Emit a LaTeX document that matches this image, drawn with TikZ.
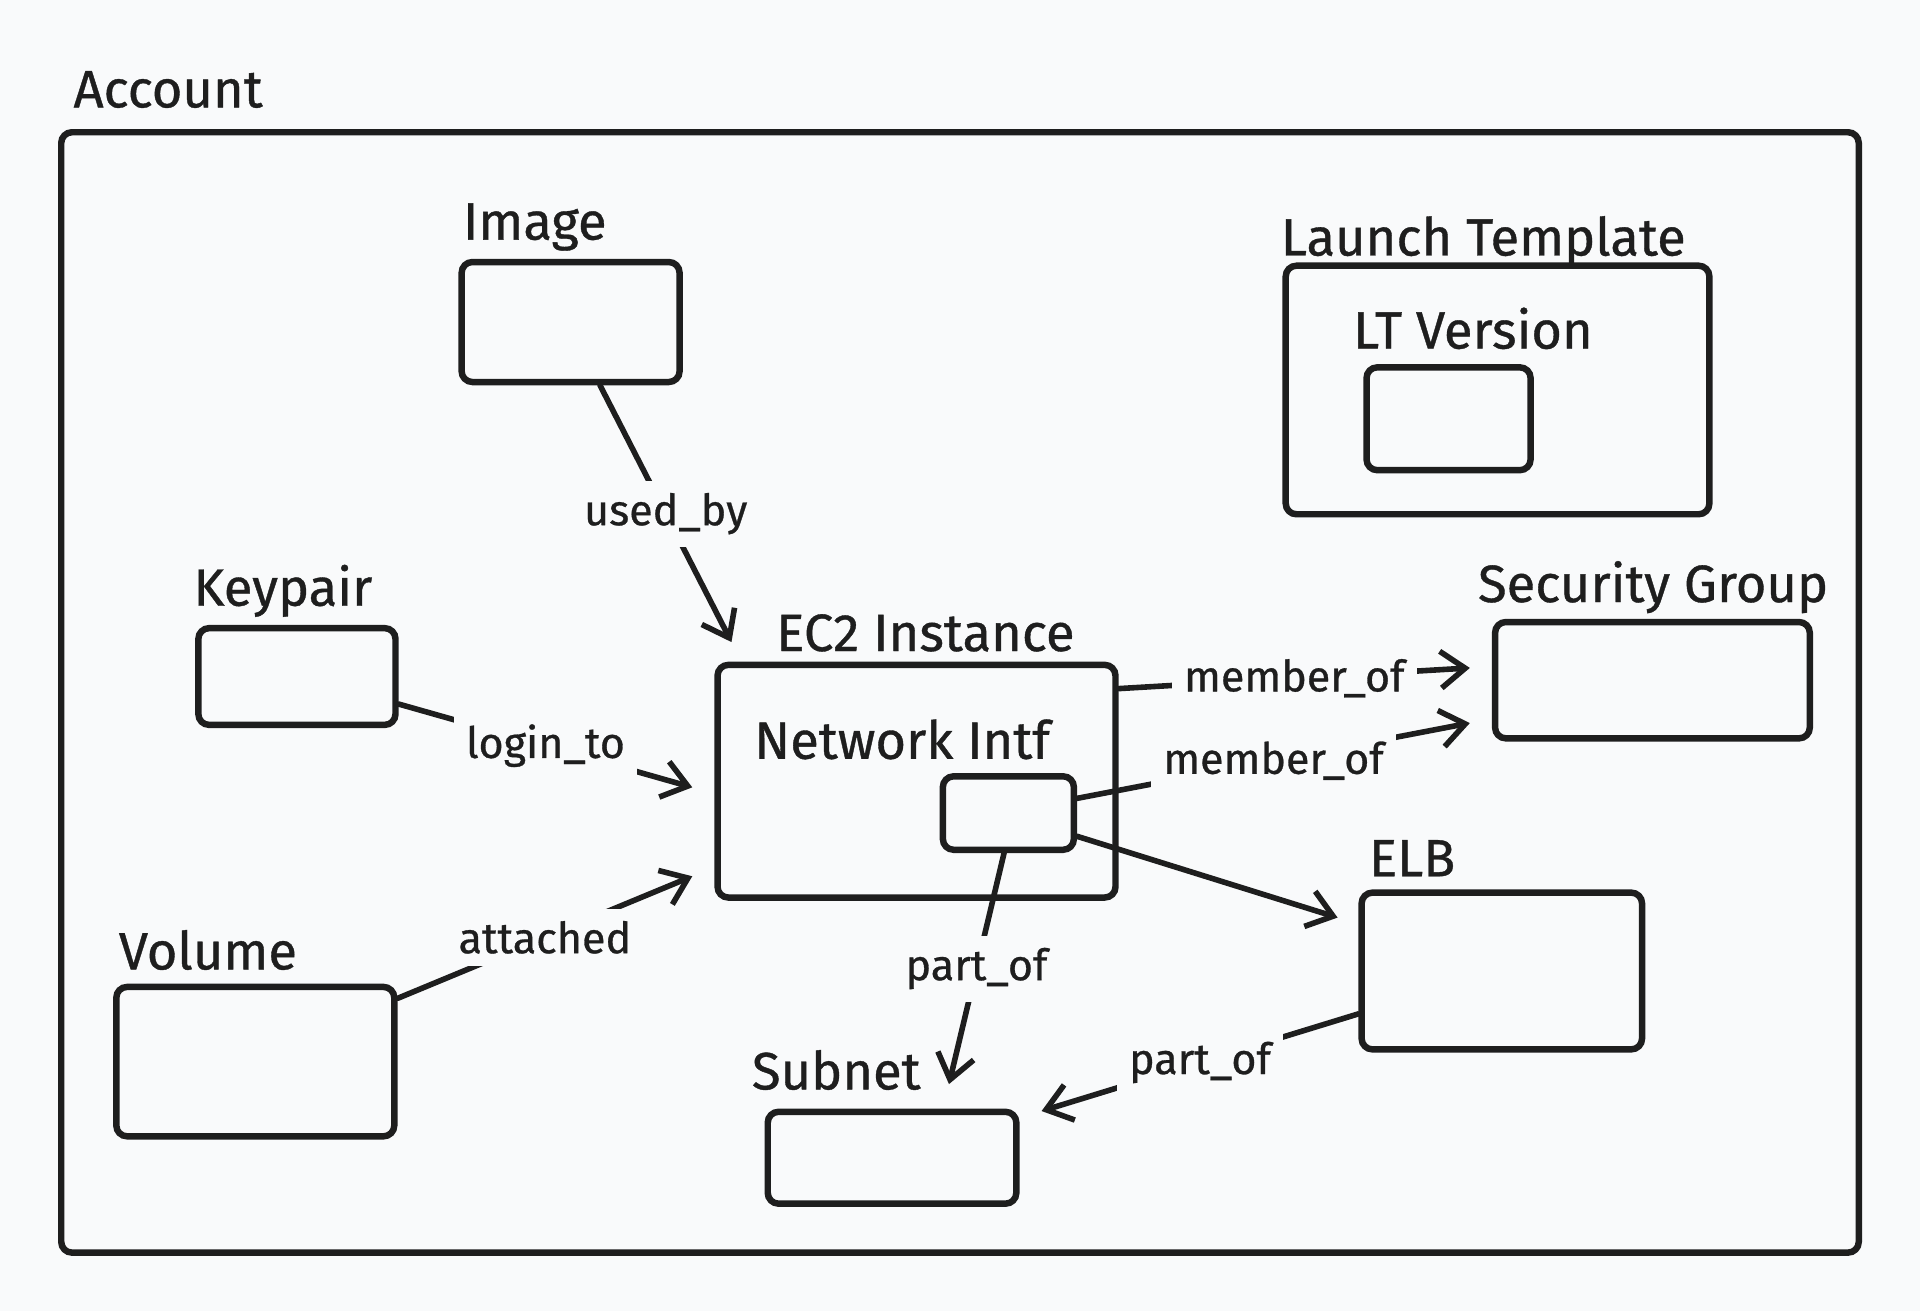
\documentclass[tikz,border=0pt]{standalone}
\usepackage{fontspec}
\setmainfont{Fira Sans}[FakeBold=0.7]
\usetikzlibrary{positioning,arrows.meta}
\definecolor{paper}{RGB}{249,250,251}
\definecolor{ink}{RGB}{30,30,30}

\begin{document}
\begin{tikzpicture}[x=0.1mm,y=-0.1mm]
\tikzset{BoxStyle/.style =
	{shape = rectangle,
		rounded corners = 2.5pt,
		line width = 1.5pt,
		draw = ink,
		inner sep = 0pt},
	TitleStyle/.style =
	{text = ink,
		inner sep = 0pt,
		text depth = 0pt,
		font = \fontsize{12.2}{14}\selectfont},
	EdgeStyle/.style =
	{draw = ink,
		line width = 1.3pt,
		line cap = round,
		-{Straight Barb[length=2mm,width=3mm]}},
	LabelStyle/.style =
	{fill = paper,
		text = ink,
		inner sep = 1mm,
		font = \fontsize{10}{12}\selectfont}}

\fill[paper] (0,0) rectangle (1568,1071);
\useasboundingbox (0,0) rectangle (1568,1071);

% boxes
\node[BoxStyle, minimum width=146.8mm, minimum height=91.5mm] (account) at (784,565.5) {};
\node[BoxStyle, minimum width=17.8mm, minimum height=9.8mm] (image) at (466,263) {};
\node[BoxStyle, minimum width=34.6mm, minimum height=20.3mm] (lt) at (1223,318.5) {};
\node[BoxStyle, minimum width=13.4mm, minimum height=8.4mm] (ltv) at (1183,342) {};
\node[BoxStyle, minimum width=16.1mm, minimum height=7.9mm] (keypair) at (242.5,552.5) {};
\node[BoxStyle, minimum width=25.7mm, minimum height=9.5mm] (sg) at (1349.5,555.5) {};
\node[BoxStyle, minimum width=32.5mm, minimum height=19mm] (ec2) at (748.5,638) {};
\node[BoxStyle, minimum width=10.7mm, minimum height=6mm] (ni) at (823.5,664) {};
\node[BoxStyle, minimum width=22.9mm, minimum height=12.8mm] (elb) at (1226.5,793) {};
\node[BoxStyle, minimum width=22.7mm, minimum height=12.2mm] (volume) at (208.5,867) {};
\node[BoxStyle, minimum width=20.3mm, minimum height=7.5mm] (subnet) at (728.5,945.5) {};

% titles
\node[TitleStyle, above right=1.7mm and 1.2mm of account.north west] (accountT) {Account};
\node[TitleStyle, above right=1.5mm and 0.3mm of image.north west] (imageT) {Image};
\node[TitleStyle, above right=0.5mm and -0.2mm of lt.north west] (ltT) {Launch Template};
\node[TitleStyle, above right=1.2mm and -0.9mm of ltv.north west] (ltvT) {LT Version};
\node[TitleStyle, above right=1.5mm and -0.2mm of keypair.north west] (keypairT) {Keypair};
\node[TitleStyle, above right=1.3mm and -1.2mm of sg.north west] (sgT) {Security Group};
\node[TitleStyle, above right=0.8mm and 5mm of ec2.north west] (ec2T) {EC2 Instance};
\node[TitleStyle, above right=1.1mm and -15.2mm of ni.north west] (niT) {Network Intf};
\node[TitleStyle, above right=1mm and 0.8mm of elb.north west] (elbT) {ELB};
\node[TitleStyle, above right=1.1mm and 0.4mm of volume.north west] (volumeT) {Volume};
\node[TitleStyle, above right=1.5mm and -1.1mm of subnet.north west] (subnetT) {Subnet};

% connectors
\draw[EdgeStyle] ([xshift=2.4mm]image.south) -- node[LabelStyle] {used\_by} ([xshift=1.4mm,yshift=1.6mm]ec2.north west);
\draw[EdgeStyle] ([yshift=-2.25mm]keypair.east) -- node[LabelStyle] {login\_to} ([xshift=-1.8mm,yshift=-0.5mm]ec2.west);
\draw[EdgeStyle] ([yshift=-1.2mm]volume.north east) -- node[LabelStyle] {attached} ([xshift=-1.8mm,yshift=2mm]ec2.south west);
\draw[EdgeStyle] ([yshift=-2.2mm]ec2.north east) -- node[LabelStyle] {member\_of} ([xshift=-1.8mm,yshift=1mm]sg.west);
\draw[EdgeStyle] ([yshift=1.2mm]ni.east) -- node[LabelStyle] {member\_of} ([xshift=-1.8mm,yshift=-3.5mm]sg.west);
\draw[EdgeStyle] ([yshift=-1.9mm]ni.east) -- ([xshift=-1.7mm,yshift=-2.3mm]elb.north west);
\draw[EdgeStyle] ([xshift=-0.35mm]ni.south) -- node[LabelStyle] {part\_of} ([xshift=4.65mm,yshift=2mm]subnet.north);
\draw[EdgeStyle] ([yshift=-3.5mm]elb.west) -- node[LabelStyle] {part\_of} ([xshift=1.8mm,yshift=-0.2mm]subnet.north east);
\end{tikzpicture}
\end{document}
